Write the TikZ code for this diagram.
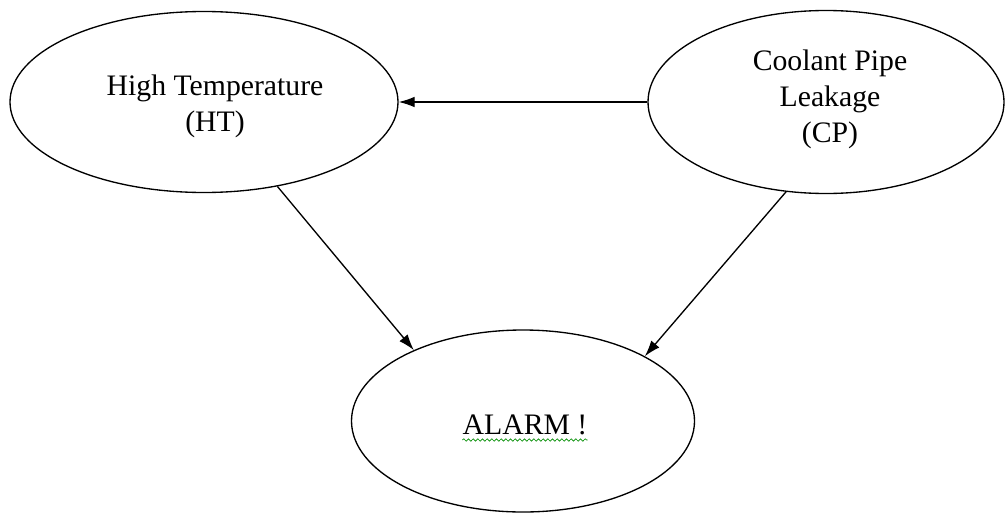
\documentclass[tikz,border=0pt]{standalone}
\usepackage{fontspec}
\setmainfont{Liberation Serif}
\usetikzlibrary{shapes.geometric,arrows.meta,decorations.pathmorphing}
\begin{document}
\begin{tikzpicture}[x=0.75pt,y=-0.75pt,
  oval/.style={draw, ellipse, line width=1pt, inner sep=0pt},
  lbl/.style={align=center, inner sep=0pt, font=\fontsize{22.3pt}{27pt}\selectfont},
  conn/.style={line width=1pt, -{Latex[length=12pt,width=8pt]}},
  spell/.style={draw=green!55!black, line width=0.5pt, decorate,
    decoration={snake, amplitude=0.9pt, segment length=3.5pt}}]
\useasboundingbox (0,0) rectangle (1005,514);
\node[oval, minimum width=388pt*0.75, minimum height=181pt*0.75] (ht) at (204,102) {};
\node[oval, minimum width=356pt*0.75, minimum height=183pt*0.75] (cp) at (826,102) {};
\node[oval, minimum width=343pt*0.75, minimum height=182pt*0.75] (al) at (523,421) {};
\node[lbl] (htl) at (215,106) {High Temperature\\(HT)};
\node[lbl] (cpl) at (830,99) {Coolant Pipe\\Leakage\\(CP)};
\node[lbl, anchor=base] (all) at (525,434) {ALARM !};
\coordinate (sw1) at ([yshift=-4.5pt]all.base west);
\coordinate (sw2) at ([yshift=-4.5pt]all.base east);
\draw[spell] (sw1) -- (sw2);
\draw[conn] (cp.west) -- (ht.east);
\draw[conn] (ht.-49) -- (al.147);
\draw[conn] (cp.-114) -- (al.28.5);
\end{tikzpicture}
\end{document}
